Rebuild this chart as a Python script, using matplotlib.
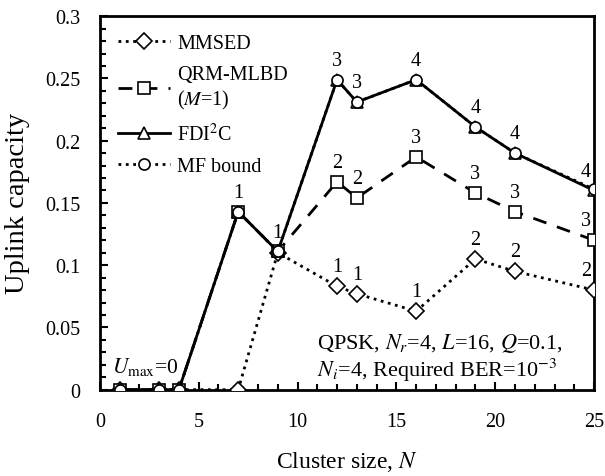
import numpy as np
import matplotlib
matplotlib.use("Agg")
import matplotlib.pyplot as plt
from matplotlib.ticker import MultipleLocator

plt.rcParams['font.family'] = ['Liberation Serif', 'DejaVu Serif']
plt.rcParams['mathtext.fontset'] = 'stix'

# data
N = [1, 3, 4, 7, 9, 12, 13, 16, 19, 21, 25]
mmsed = [0, 0, 0, 0, 0.110, 0.083, 0.077, 0.063, 0.105, 0.095, 0.080]
qrm = [0, 0, 0, 0.143, 0.111, 0.167, 0.154, 0.187, 0.158, 0.143, 0.120]
fdi2c = [0, 0, 0, 0.143, 0.111, 0.249, 0.231, 0.249, 0.211, 0.190, 0.160]
mfbound = [0, 0, 0, 0.143, 0.111, 0.249, 0.231, 0.249, 0.211, 0.190, 0.161]

# U_max labels (index into N)
idx_lab = [3, 4, 5, 6, 7, 8, 9, 10]
mmsed_lab = [None, None, '1', '1', '1', '2', '2', '2']
qrm_lab = [None, None, '2', '2', '3', '3', '3', '3']
fdi_lab = ['1', '1', '3', '3', '4', '4', '4', '4']

fig, ax = plt.subplots(figsize=[6.05, 4.77], dpi=100)
fig.subplots_adjust(left=0.165, right=0.982, top=0.964, bottom=0.181)

lw = 2
ax.plot(N, mmsed, ':', color='black', lw=lw, marker='D', ms=8,
        mfc='white', mec='black', mew=1.2, label='MMSED', zorder=3)
ax.plot(N, qrm, '--', color='black', lw=lw, marker='s', ms=8,
        mfc='white', mec='black', mew=1.2, dashes=(5, 4),
        label='QRM-MLBD\n($M$=1)', zorder=3)
ax.plot(N, fdi2c, '-', color='black', lw=lw, marker='^', ms=9,
        mfc='white', mec='black', mew=1.2, label='FDI$^2$C', zorder=4)
ax.plot(N, mfbound, ':', color='black', lw=lw, marker='o', ms=8,
        mfc='white', mec='black', mew=1.2, label='MF bound', zorder=5)

def put_labels(vals, labs):
    for i, t in zip(idx_lab, labs):
        if t is None:
            continue
        x, y = N[i], vals[i]
        dx = -6 if x == 25 else 0
        ax.annotate(t, (x, y), xytext=(dx, 14), textcoords='offset points',
                    ha='center', va='center', fontsize=14.5)

put_labels(mmsed, mmsed_lab)
put_labels(qrm, qrm_lab)
put_labels(fdi2c, fdi_lab)

ax.text(0.6, 0.019, r'$U_{\rm max}$=0', fontsize=15.5, va='center', ha='left')
ax.text(11.0, 0.038, r'QPSK, $N_r$=4, $L$=16, $Q$=0.1,', fontsize=16,
        va='center', ha='left')
ax.text(11.0, 0.016, r'$N_i$=4, Required BER=10$^{-3}$', fontsize=16,
        va='center', ha='left')

ax.set_xlim(0, 25)
ax.set_ylim(0, 0.3)
ax.xaxis.set_major_locator(MultipleLocator(5))
ax.xaxis.set_minor_locator(MultipleLocator(1))
ax.yaxis.set_minor_locator(MultipleLocator(0.01))
ax.set_yticks([0, 0.05, 0.1, 0.15, 0.2, 0.25, 0.3])
ax.set_yticklabels(['0', '0.05', '0.1', '0.15', '0.2', '0.25', '0.3'])
ax.tick_params(which='both', direction='in', top=False, right=False,
               labelsize=14.5, width=1.5)
ax.tick_params(which='major', length=6)
ax.tick_params(axis='x', which='major', pad=16)
ax.tick_params(axis='y', which='major', pad=14)
ax.tick_params(which='minor', length=4)
for s in ax.spines.values():
    s.set_linewidth(2)

ax.set_xlabel('Cluster size, $N$', fontsize=17, labelpad=13)
ax.set_ylabel('Uplink capacity', fontsize=20.5, labelpad=11)

ax.legend(loc='upper left', frameon=False, fontsize=14.5, handlelength=2.6,
          borderaxespad=0.3, borderpad=0.6, labelspacing=0.6,
          handletextpad=0.35, bbox_to_anchor=(0.0, 1.0))

plt.savefig('out.png', dpi=100)
